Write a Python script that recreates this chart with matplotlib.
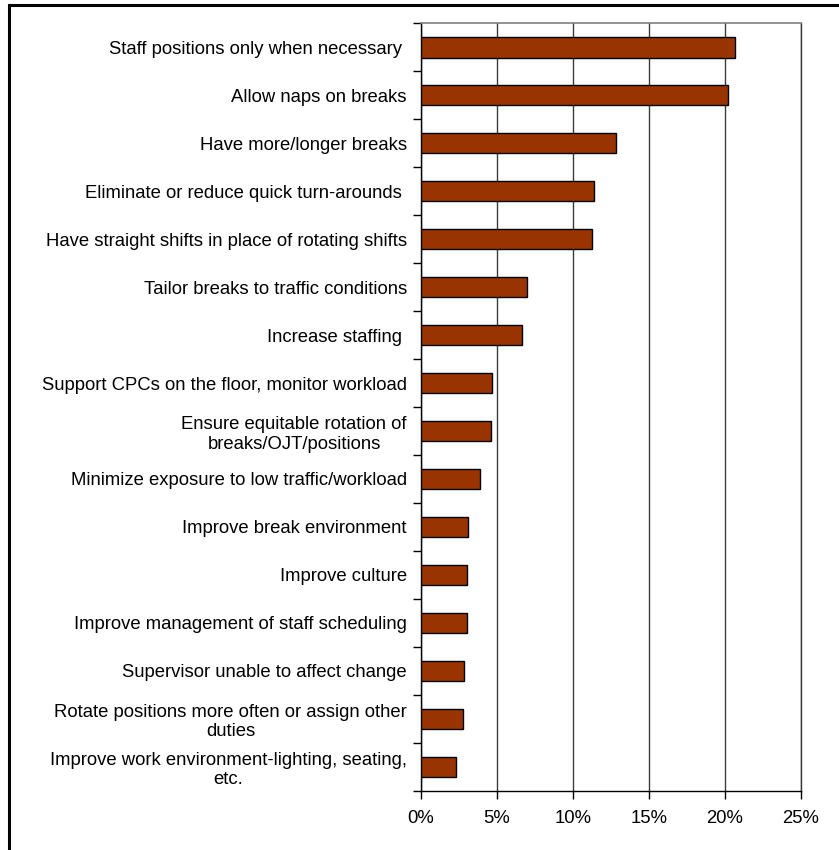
import numpy as np
import matplotlib.pyplot as plt
from matplotlib.patches import Rectangle
from matplotlib.ticker import FuncFormatter

plt.rcParams['font.family'] = ['Liberation Sans', 'DejaVu Sans']

# categories, top to bottom
labels = [
    'Staff positions only when necessary ',
    'Allow naps on breaks',
    'Have more/longer breaks',
    'Eliminate or reduce quick turn-arounds ',
    'Have straight shifts in place of rotating shifts',
    'Tailor breaks to traffic conditions',
    'Increase staffing ',
    'Support CPCs on the floor, monitor workload',
    'Ensure equitable rotation of\nbreaks/OJT/positions',
    'Minimize exposure to low traffic/workload',
    'Improve break environment',
    'Improve culture',
    'Improve management of staff scheduling',
    'Supervisor unable to affect change',
    'Rotate positions more often or assign other\nduties',
    'Improve work environment-lighting, seating,\netc.',
]
values = [20.7, 20.2, 12.85, 11.4, 11.3, 6.97, 6.66, 4.71,
          4.65, 3.92, 3.09, 3.02, 3.02, 2.83, 2.76, 2.32]
xticks = [0, 5, 10, 15, 20, 25]

fig = plt.figure(figsize=(8.39, 8.5), dpi=100)
ax = fig.add_axes([0.5014, 0.0698, 0.4529, 0.9026])

y = np.arange(len(labels))
ax.barh(y, values, height=0.42, color='#993300', edgecolor='black',
        linewidth=1, zorder=3)

ax.set_xlim(0, 25)
ax.set_ylim(len(labels) - 0.5, -0.5)
ax.set_xticks(xticks)
ax.xaxis.set_major_formatter(FuncFormatter(lambda v, p: '%d%%' % v))
ax.grid(axis='x', color='#3a3a3a', linewidth=1, zorder=1)

ax.set_yticks(y)
ax.set_yticklabels(labels, ha='right', multialignment='center',
                   linespacing=1.2)
ax.tick_params(axis='y', length=0, pad=10, labelsize=13.3)
ax.set_yticks(np.arange(len(labels) + 1) - 0.5, minor=True)
ax.tick_params(axis='y', which='minor', length=6, width=1, direction='out')
ax.tick_params(axis='x', length=6, width=1, direction='out', pad=8,
               labelsize=13.3)

for s in ['left', 'bottom']:
    ax.spines[s].set_color('black')
    ax.spines[s].set_linewidth(1)
ax.spines['top'].set_color('#808080')
ax.spines['top'].set_linewidth(1.2)
ax.spines['right'].set_color('#3a3a3a')
ax.spines['right'].set_linewidth(1)

# outer chart border
fig.patches.append(Rectangle((9 / 839, -0.1), 2, 1 - 5 / 850 + 0.1,
                             transform=fig.transFigure, fill=False,
                             edgecolor='black', linewidth=2.2))

fig.savefig('out.png', dpi=100)
